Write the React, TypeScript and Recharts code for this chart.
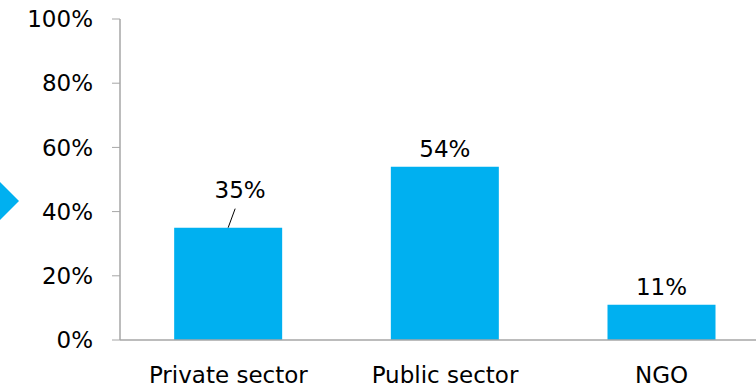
import React from "react"
import { BarChart, Bar, XAxis, YAxis, LabelList, Customized } from "recharts"

const CATEGORIES = ["Private sector", "Public sector", "NGO"]
const SHARES = [0.35, 0.54, 0.11]
const Y_TICKS = [0, 0.2, 0.4, 0.6, 0.8, 1]
const EDGE_TICKS = [0, 1, 2, 3]

const COLORS = {
  bar: "#00B0F0",
  axis: "#A6A6A6",
  text: "#000000",
}

const FONT = "'DejaVu Sans', Verdana, sans-serif"
const FONT_SIZE = 23

const data = CATEGORIES.map((name, i) => ({ name, share: SHARES[i], pos: i + 0.5 }))

const pct = (v: number) => `${Math.round(v * 100)}%`

// value labels; the first one sits up and to the right, with a short leader line
function ValueLabel(props: any) {
  const { x, y, width, value, index } = props
  const cx = x + width / 2
  if (index === 0) {
    return (
      <g>
        <line x1={cx} y1={y} x2={cx + 7} y2={y - 19} stroke={COLORS.text} strokeWidth={1} />
        <text x={cx + 12} y={y - 30} textAnchor="middle" fontSize={FONT_SIZE} fontFamily={FONT} fill={COLORS.text}>
          {pct(value)}
        </text>
      </g>
    )
  }
  return (
    <text x={cx} y={y - 10} textAnchor="middle" fontSize={FONT_SIZE} fontFamily={FONT} fill={COLORS.text}>
      {pct(value)}
    </text>
  )
}

// the blue arrow tip peeking in at the left edge of the slide
const ArrowTip = () => <polygon points="0,182 19,201 0,220" fill={COLORS.bar} />

export default function App() {
  return (
    <div style={{ position: "absolute", left: 0, top: 0, width: 756, height: 391, overflow: "hidden", background: "#fff" }}>
      <BarChart
        width={776}
        height={391}
        data={data}
        margin={{ top: 19, right: 6, bottom: 0, left: 0 }}
        barCategoryGap="25%"
      >
        <XAxis
          xAxisId="edges"
          type="number"
          dataKey="pos"
          domain={[0, 3]}
          ticks={EDGE_TICKS}
          height={0}
          axisLine={false}
          tickSize={7}
          tickLine={{ stroke: COLORS.axis }}
          tick={{ fill: "none", fontSize: 1 }}
        />
        <XAxis
          xAxisId="cat"
          dataKey="name"
          height={51}
          axisLine={{ stroke: COLORS.axis, strokeWidth: 1.5 }}
          tickLine={false}
          tick={{ fill: COLORS.text, fontSize: FONT_SIZE, fontFamily: FONT }}
          tickMargin={21}
          interval={0}
        />
        <YAxis
          domain={[0, 1]}
          ticks={Y_TICKS}
          width={120}
          tickFormatter={pct}
          axisLine={{ stroke: COLORS.axis, strokeWidth: 1.5 }}
          tickLine={{ stroke: COLORS.axis }}
          tickSize={8}
          tickMargin={19}
          tick={{ fill: COLORS.text, fontSize: FONT_SIZE, fontFamily: FONT }}
        />
        <Bar dataKey="share" xAxisId="cat" fill={COLORS.bar} isAnimationActive={false}>
          <LabelList dataKey="share" content={ValueLabel} />
        </Bar>
        <Customized component={ArrowTip} />
      </BarChart>
    </div>
  )
}
